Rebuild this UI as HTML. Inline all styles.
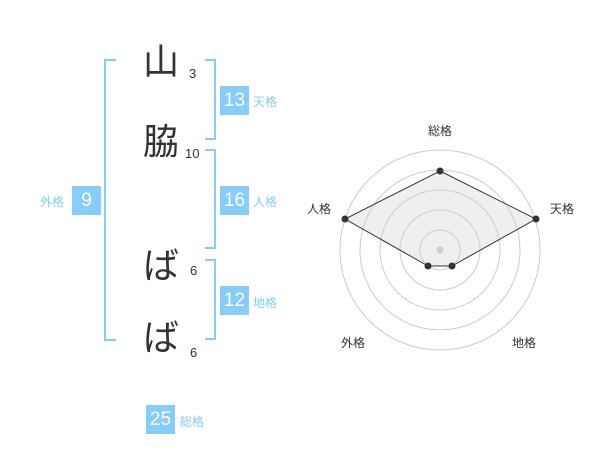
<!DOCTYPE html>
<html><head><meta charset="utf-8"><style>
body{margin:0;width:600px;height:470px;background:#fff;position:relative;overflow:hidden;font-family:"Liberation Sans","Noto Sans CJK JP",sans-serif}
.a{position:absolute}
.k{position:absolute;font-size:36px;color:#333;line-height:1;left:143px}
.n{position:absolute;font-size:13px;color:#333;line-height:1}
.b{position:absolute;width:29px;height:29px;background:#88ccf8;color:#fff;font-size:19px;line-height:29px;text-align:center}
.l{position:absolute;font-size:12px;color:#88ccf8;line-height:1}
</style></head><body>
<div class="k" style="top:44px">山</div>
<div class="k" style="top:124px">脇</div>
<div class="k" style="top:248px">ば</div>
<div class="k" style="top:320px">ば</div>
<div class="n" style="left:189px;top:67px">3</div>
<div class="n" style="left:185px;top:147px">10</div>
<div class="n" style="left:190px;top:264px">6</div>
<div class="n" style="left:190px;top:346px">6</div>
<svg class="a" style="left:0;top:0" width="600" height="470">
<g fill="none" stroke="#88ccf8" stroke-width="2">
<path d="M116 60H105V340H116"/>
<path d="M205 60H215V139H205"/>
<path d="M205 150H215V248H205"/>
<path d="M205 260H215V339H205"/>
</g>
<g fill="none" stroke="#ccc" stroke-width="1">
<circle cx="440" cy="250" r="100"/><circle cx="440" cy="250" r="80"/><circle cx="440" cy="250" r="60"/><circle cx="440" cy="250" r="40"/><circle cx="440" cy="250" r="20"/>
</g>
<circle cx="440" cy="250" r="3.5" fill="#ccc"/>
<polygon points="440,171 536,219 452,266 428,266 345,219" fill="rgba(210,210,210,0.35)" stroke="#333" stroke-width="1"/>
<g fill="#333"><circle cx="440" cy="171" r="3.5"/><circle cx="536" cy="219" r="3.5"/><circle cx="452" cy="266" r="3.5"/><circle cx="428" cy="266" r="3.5"/><circle cx="345" cy="219" r="3.5"/></g>
<g font-size="12" fill="#333" font-family="Liberation Sans,Noto Sans CJK JP,sans-serif" text-anchor="middle">
<text x="440" y="135">総格</text><text x="562" y="213">天格</text><text x="524" y="347">地格</text><text x="353" y="347">外格</text><text x="319" y="213">人格</text>
</g>
</svg>
<div class="b" style="left:220px;top:86px">13</div><div class="l" style="left:253px;top:96px">天格</div>
<div class="b" style="left:220px;top:186px">16</div><div class="l" style="left:253px;top:196px">人格</div>
<div class="b" style="left:220px;top:286px">12</div><div class="l" style="left:253px;top:297px">地格</div>
<div class="b" style="left:72px;top:186px">9</div><div class="l" style="left:40px;top:196px">外格</div>
<div class="b" style="left:146px;top:405px">25</div><div class="l" style="left:180px;top:416px">総格</div>
</body></html>
